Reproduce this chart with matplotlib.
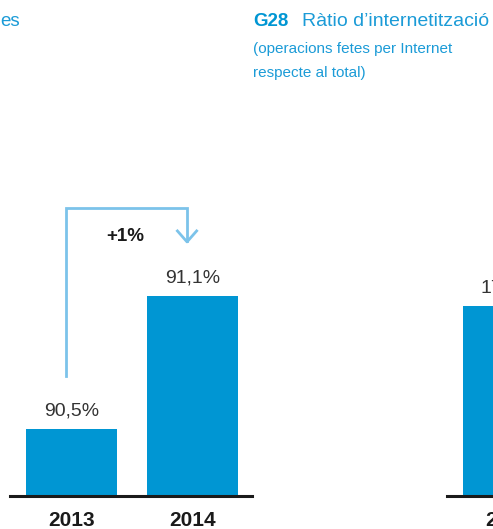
import matplotlib.pyplot as plt

plt.rcParams['font.family'] = ['Liberation Sans', 'DejaVu Sans']

years = ['2013', '2014']
ratio_left = [90.5, 91.1]
change_label = '+1%'
years_right = ['2013']
ratio_right = [17.2]

blue = '#0096d3'
light_blue = '#7cc3ea'
title_blue = '#1b9bd7'

W, H = 493, 529
fig = plt.figure(figsize=(W / 100, H / 100), dpi=100)


def px_rect(x0, y_base, w, h):
    return [x0 / W, (H - y_base) / H, w / W, h / H]


def fmt(v):
    return f'{v:.1f}'.replace('.', ',') + '%'


def bar_panel(rect, cats, vals, ylim):
    ax = fig.add_axes(rect)
    x = range(len(cats))
    ax.bar(x, vals, width=0.75, color=blue, zorder=2)
    ax.set_xlim(-0.508, 1.492)
    ax.set_ylim(*ylim)
    ax.axhline(ylim[0], color='#1a1a1a', lw=2.2, zorder=3, clip_on=False)
    for xi, v in zip(x, vals):
        ax.annotate(fmt(v), (xi, v), xytext=(0, 13), textcoords='offset points',
                    ha='center', va='center', fontsize=14, color='#333333')
    ax.set_xticks(list(x), cats)
    ax.tick_params(axis='x', length=0, pad=11, labelsize=15)
    for lab in ax.get_xticklabels():
        lab.set_fontweight('bold')
        lab.set_color('#1a1a1a')
    ax.set_yticks([])
    for s in ax.spines.values():
        s.set_visible(False)
    ax.patch.set_alpha(0)
    return ax


ax1 = bar_panel(px_rect(10, 496, 242, 316), years, ratio_left, (90.2, 91.625))

# connector arrow from 2013 to 2014
x0, x1 = 0 - 0.045, 1 - 0.045
y_top = 91.499
ax1.plot([x0, x0, x1, x1], [ratio_left[0] + 0.241, y_top, y_top, ratio_left[1] + 0.25],
         color=light_blue, lw=2, solid_joinstyle='miter', clip_on=False)
ax1.plot([x1 - 0.087, x1, x1 + 0.087], [91.4, 91.346, 91.4],
         color=light_blue, lw=2, solid_capstyle='butt', clip_on=False)
ax1.text(0.442, 91.368, change_label, ha='center', va='center', fontsize=13.5,
         fontweight='bold', color='#1a1a1a')

ax2 = bar_panel(px_rect(447, 496, 242, 316), years_right, ratio_right, (0, 28.6))

# titles
fig.text(0 / W, 1 - 22 / H, 'es', fontsize=13.5, color=title_blue, va='center', ha='left')
fig.text(253 / W, 1 - 22 / H, 'G28', fontsize=13.5, fontweight='bold', color=blue,
         va='center', ha='left')
fig.text(302 / W, 1 - 22 / H, 'Ràtio d’internetització', fontsize=14, color=title_blue,
         va='center', ha='left')
fig.text(253 / W, 1 - 49 / H, '(operacions fetes per Internet', fontsize=11,
         color=title_blue, va='center', ha='left')
fig.text(253 / W, 1 - 73 / H, 'respecte al total)', fontsize=11,
         color=title_blue, va='center', ha='left')

fig.savefig('out.png', dpi=100)
